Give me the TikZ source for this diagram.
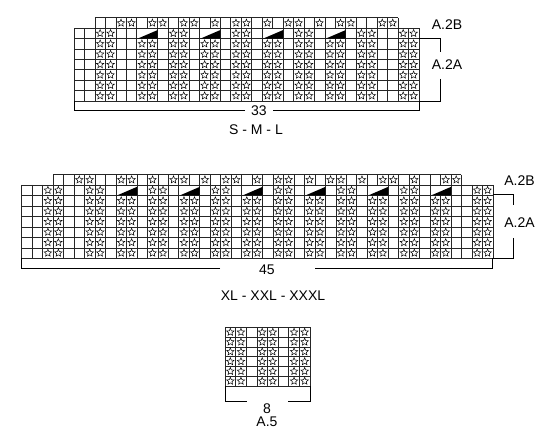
\documentclass[tikz,border=0pt]{standalone}
\usepackage{fontspec}
\setmainfont{Liberation Sans}
\begin{document}
\begin{tikzpicture}[x=1pt,y=-1pt]
\tikzset{
  gridline/.style={line width=0.6pt, draw=black!85},
  bracket/.style={line width=0.9pt, draw=black},
  lbl/.style={inner sep=0pt, font=\fontsize{14}{16}\selectfont},
  starpic/.pic={\draw[x=1pt,y=1pt,line width=0.5pt,line join=miter] (90:3.9) \foreach \a in {162,234,306,378} { -- ({\a-36}:1.75) -- (\a:3.9) } -- (54:1.75) -- cycle;},
}
\fill[white] (0,0) rectangle (550,444);
\useasboundingbox (0,0) rectangle (550,444);

% ---------------- top chart (S-M-L), 33 columns
\begin{scope}[shift={(74,28.2)}, x=10.45pt, y=-10.4pt]
  \foreach \r in {0,...,7} \draw[gridline] (0,\r) -- (33,\r);
  \draw[gridline] (2,-1) -- (31,-1);
  \foreach \k in {0,...,33} \draw[gridline] (\k,1) -- (\k,7);
  \foreach \k in {0,1,2,3,4,5,6,8,9,10,11,12,14,15,16,17,18,20,21,22,23,24,26,27,28,29,30,31,32,33}
    \draw[gridline] (\k,0) -- (\k,1);
  \foreach \k in {2,...,31} \draw[gridline] (\k,-1) -- (\k,0);
  \foreach \r in {2,...,7}
    \foreach \p in {3,7,10,13,16,19,22,25,28,32} {
      \pic at (\p-0.5,\r-0.5) {starpic};
      \pic at (\p+0.5,\r-0.5) {starpic};
    }
  \foreach \p in {3,10,16,22,28,32} {
      \pic at (\p-0.5,0.5) {starpic};
      \pic at (\p+0.5,0.5) {starpic};
  }
  \foreach \p in {7,13,19,25}
    \fill (\p-0.9,1) -- (\p+1,0.18) -- (\p+1,1) -- cycle;
  \foreach \c in {5,6,8,9,11,12,14,16,17,19,21,22,24,26,27,30,31}
    \pic at (\c-0.5,-0.5) {starpic};
\end{scope}

\draw[bracket] (245,110) -- (74,110) -- (74,101);
\draw[bracket] (273,110) -- (419,110) -- (419,101);
\node[lbl] (n33) at (259,110.5) {33};
\node[lbl] (sml) at (256,130) {S - M - L};
\draw[bracket] (419,38.5) -- (440,38.5) -- (440,52);
\draw[bracket] (440,79) -- (440,101) -- (419,101);
\node[lbl] (ta2b) at (447,24.5) {A.2B};
\node[lbl] (ta2a) at (447,65) {A.2A};

% ---------------- bottom chart (XL-XXL-XXXL), 45 columns
\begin{scope}[shift={(21.7,185)}, x=10.47pt, y=-10.47pt]
  \foreach \r in {0,...,7} \draw[gridline] (0,\r) -- (45,\r);
  \draw[gridline] (3,-1) -- (42,-1);
  \foreach \k in {0,...,45} \draw[gridline] (\k,1) -- (\k,7);
  \foreach \k in {0,1,2,3,4,5,6,7,8,9,11,12,13,14,15,17,18,19,20,21,23,24,25,26,27,29,30,31,32,33,35,36,37,38,39,41,42,43,44,45}
    \draw[gridline] (\k,0) -- (\k,1);
  \foreach \k in {3,...,42} \draw[gridline] (\k,-1) -- (\k,0);
  \foreach \r in {2,...,7}
    \foreach \p in {3,7,10,13,16,19,22,25,28,31,34,37,40,44} {
      \pic at (\p-0.5,\r-0.5) {starpic};
      \pic at (\p+0.5,\r-0.5) {starpic};
    }
  \foreach \p in {3,7,13,19,25,31,37,44} {
      \pic at (\p-0.5,0.5) {starpic};
      \pic at (\p+0.5,0.5) {starpic};
  }
  \foreach \p in {10,16,22,28,34,40}
    \fill (\p-0.9,1) -- (\p+1,0.18) -- (\p+1,1) -- cycle;
  \foreach \c in {6,7,10,11,13,15,16,18,20,21,23,25,26,28,30,31,33,35,36,38,41,42}
    \pic at (\c-0.5,-0.5) {starpic};
\end{scope}

\draw[bracket] (220,268.3) -- (21.7,268.3) -- (21.7,258.3);
\draw[bracket] (315,268.3) -- (492.7,268.3) -- (492.7,258.3);
\node[lbl] (n45) at (267,269.5) {45};
\node[lbl] (xl) at (273,296) {XL - XXL - XXXL};
\draw[bracket] (492.7,194) -- (513,194) -- (513,205);
\draw[bracket] (513,238) -- (513,258.3) -- (492.7,258.3);
\node[lbl] (ba2b) at (519.5,180.5) {A.2B};
\node[lbl] (ba2a) at (519.5,222.5) {A.2A};

% ---------------- A.5, 8 columns
\begin{scope}[shift={(225,327.3)}, x=10.625pt, y=-9.78pt]
  \foreach \r in {0,...,6} \draw[gridline] (0,\r) -- (8,\r);
  \foreach \k in {0,...,8} \draw[gridline] (\k,0) -- (\k,6);
  \foreach \r in {1,...,6}
    \foreach \p in {1,4,7} {
      \pic at (\p-0.5,\r-0.5) {starpic};
      \pic at (\p+0.5,\r-0.5) {starpic};
    }
\end{scope}
\draw[bracket] (246.7,401.7) -- (225,401.7) -- (225,386);
\draw[bracket] (288,401.7) -- (310,401.7) -- (310,386);
\node[lbl] (n8) at (267,408.5) {8};
\node[lbl] (a5) at (267,421.5) {A.5};
\end{tikzpicture}
\end{document}
